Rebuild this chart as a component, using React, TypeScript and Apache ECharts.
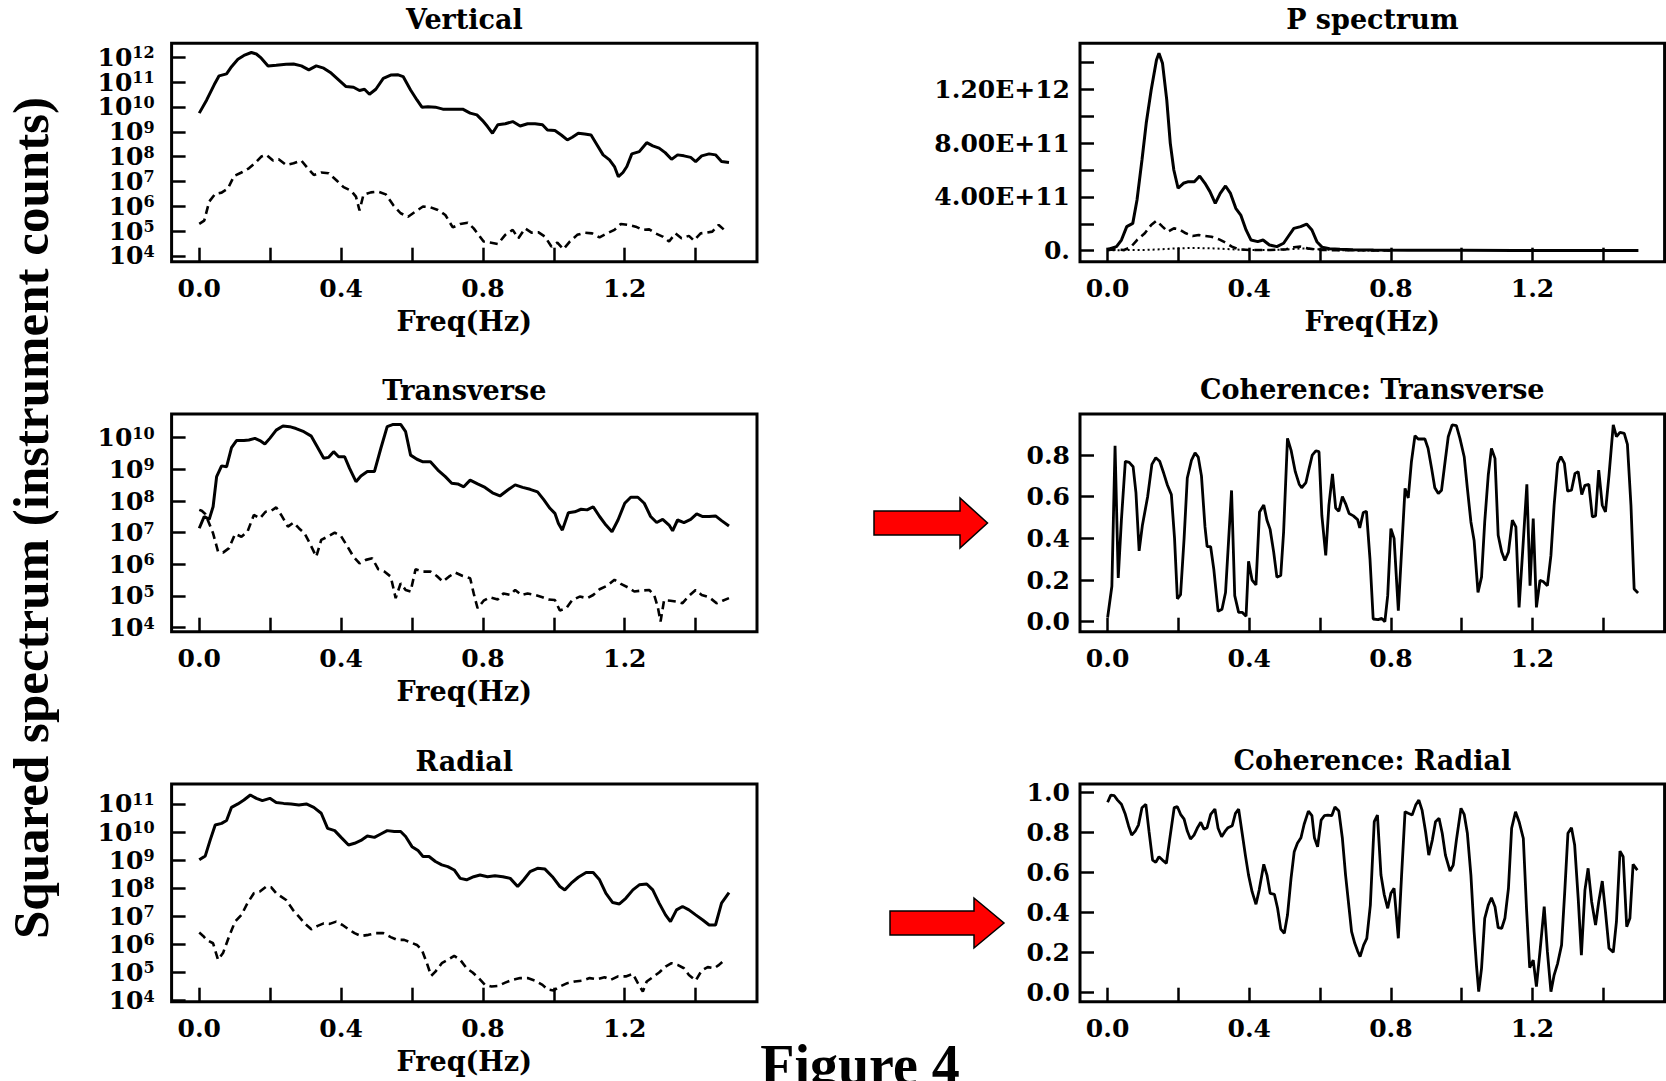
import React, { useEffect, useRef } from "react";
import * as echarts from "echarts";

// ---------- axis ticks / labels ----------
const FREQ_TICKS = [0, 0.2, 0.4, 0.6, 0.8, 1.0, 1.2, 1.4];
const FREQ_LABELS = [0, 0.4, 0.8, 1.2];
const VERT_EXP_TICKS = [4, 5, 6, 7, 8, 9, 10, 11, 12];
const TRANS_EXP_TICKS = [4, 5, 6, 7, 8, 9, 10];
const RADIAL_EXP_TICKS = [4, 5, 6, 7, 8, 9, 10, 11];
const P_TICKS_E11 = [0, 2, 4, 6, 8, 10, 12, 14];
const P_LABELS_E11 = [0, 4, 8, 12];
const COH_T_TICKS = [0, 0.2, 0.4, 0.6, 0.8];
const COH_R_TICKS = [0, 0.2, 0.4, 0.6, 0.8, 1.0];

const TITLES = ["Vertical", "P spectrum", "Transverse", "Coherence: Transverse", "Radial", "Coherence: Radial"];

// ---------- data: [freq (Hz), log10(squared spectrum counts)] ----------
const vertSolid = [[0,9.75],[0.021,10.28],[0.042,10.89],[0.056,11.25],[0.077,11.33],[0.091,11.62],[0.109,11.92],[0.126,12.07],[0.147,12.19],[0.161,12.13],[0.175,11.96],[0.194,11.65],[0.217,11.68],[0.245,11.72],[0.266,11.73],[0.288,11.65],[0.309,11.49],[0.33,11.65],[0.351,11.56],[0.372,11.36],[0.393,11.09],[0.414,10.82],[0.435,10.79],[0.452,10.66],[0.466,10.71],[0.48,10.51],[0.498,10.71],[0.519,11.15],[0.54,11.28],[0.561,11.29],[0.575,11.22],[0.596,10.68],[0.614,10.28],[0.628,9.99],[0.645,10.01],[0.666,9.99],[0.687,9.91],[0.715,9.91],[0.743,9.91],[0.764,9.75],[0.783,9.68],[0.799,9.45],[0.813,9.21],[0.827,8.94],[0.842,9.28],[0.863,9.32],[0.884,9.41],[0.905,9.23],[0.926,9.32],[0.947,9.32],[0.968,9.28],[0.982,9.07],[1.003,9.05],[1.021,8.87],[1.038,8.67],[1.052,8.78],[1.069,8.94],[1.087,8.91],[1.105,8.87],[1.122,8.47],[1.139,8.07],[1.157,7.87],[1.171,7.6],[1.182,7.19],[1.195,7.36],[1.206,7.6],[1.22,8.11],[1.241,8.2],[1.262,8.56],[1.279,8.43],[1.297,8.34],[1.314,8.16],[1.332,7.89],[1.349,8.07],[1.367,8.03],[1.386,7.97],[1.4,7.8],[1.417,8.03],[1.438,8.11],[1.456,8.07],[1.473,7.8],[1.494,7.76]];
const vertDashed = [[0,5.29],[0.014,5.42],[0.028,6.19],[0.045,6.5],[0.063,6.55],[0.081,6.72],[0.098,7.22],[0.119,7.36],[0.14,7.53],[0.157,7.73],[0.175,8.0],[0.189,8.07],[0.208,7.84],[0.224,7.89],[0.245,7.66],[0.266,7.73],[0.288,7.84],[0.306,7.53],[0.323,7.26],[0.344,7.36],[0.365,7.33],[0.386,7.06],[0.407,6.77],[0.428,6.63],[0.442,6.39],[0.452,5.83],[0.463,6.46],[0.484,6.56],[0.505,6.59],[0.526,6.48],[0.547,6.05],[0.568,5.72],[0.589,5.58],[0.61,5.79],[0.631,5.99],[0.652,5.96],[0.673,5.85],[0.694,5.65],[0.715,5.15],[0.736,5.29],[0.757,5.34],[0.774,5.11],[0.788,4.85],[0.802,4.58],[0.82,4.54],[0.842,4.48],[0.863,4.85],[0.884,5.05],[0.9,4.71],[0.919,5.11],[0.937,4.94],[0.957,4.95],[0.975,4.78],[0.993,4.38],[1.01,4.54],[1.027,4.27],[1.045,4.58],[1.066,4.85],[1.087,4.94],[1.108,4.91],[1.129,4.75],[1.15,4.91],[1.171,5.05],[1.189,5.29],[1.209,5.25],[1.231,5.18],[1.251,5.05],[1.269,5.07],[1.287,4.91],[1.307,4.78],[1.325,4.58],[1.343,4.91],[1.36,4.71],[1.381,4.81],[1.395,4.62],[1.414,4.91],[1.431,4.94],[1.447,4.98],[1.465,5.25],[1.479,5.07]];

const transSolid = [[0,7.14],[0.014,7.51],[0.028,7.42],[0.039,7.82],[0.049,8.77],[0.063,9.11],[0.077,9.08],[0.091,9.69],[0.105,9.91],[0.126,9.91],[0.14,9.93],[0.157,9.98],[0.171,9.91],[0.185,9.8],[0.199,9.98],[0.217,10.24],[0.236,10.37],[0.255,10.35],[0.273,10.29],[0.295,10.19],[0.316,10.05],[0.33,9.77],[0.351,9.35],[0.365,9.38],[0.379,9.56],[0.393,9.4],[0.41,9.4],[0.424,9.03],[0.442,8.61],[0.456,8.79],[0.474,8.93],[0.494,8.93],[0.512,9.66],[0.53,10.35],[0.547,10.42],[0.568,10.42],[0.582,10.19],[0.596,9.45],[0.614,9.32],[0.631,9.24],[0.652,9.24],[0.673,8.98],[0.694,8.77],[0.712,8.56],[0.729,8.54],[0.746,8.45],[0.764,8.66],[0.785,8.54],[0.806,8.43],[0.827,8.26],[0.848,8.16],[0.87,8.35],[0.891,8.51],[0.912,8.43],[0.933,8.37],[0.954,8.29],[0.971,8.05],[0.989,7.77],[1.003,7.61],[1.013,7.29],[1.024,7.08],[1.041,7.63],[1.059,7.66],[1.077,7.74],[1.094,7.72],[1.111,7.82],[1.129,7.51],[1.147,7.24],[1.164,7.03],[1.181,7.4],[1.2,7.93],[1.217,8.12],[1.237,8.12],[1.255,7.93],[1.273,7.51],[1.29,7.32],[1.307,7.42],[1.325,7.24],[1.335,7.06],[1.349,7.4],[1.367,7.32],[1.386,7.42],[1.403,7.59],[1.42,7.51],[1.438,7.51],[1.456,7.53],[1.473,7.38],[1.494,7.21]];
const transDashed = [[0,7.72],[0.007,7.69],[0.017,7.59],[0.028,7.29],[0.039,6.98],[0.053,6.4],[0.067,6.37],[0.084,6.51],[0.101,6.96],[0.119,6.87],[0.136,7.03],[0.154,7.56],[0.171,7.45],[0.187,7.66],[0.203,7.69],[0.217,7.8],[0.231,7.56],[0.25,7.19],[0.266,7.32],[0.281,7.14],[0.297,6.98],[0.311,6.68],[0.33,6.24],[0.344,6.77],[0.365,6.89],[0.382,7.0],[0.4,6.89],[0.418,6.56],[0.435,6.24],[0.452,6.03],[0.47,6.14],[0.488,6.19],[0.505,5.84],[0.522,5.77],[0.54,5.61],[0.554,4.93],[0.568,5.4],[0.582,5.19],[0.596,5.14],[0.61,5.84],[0.631,5.77],[0.652,5.77],[0.67,5.63],[0.687,5.45],[0.704,5.61],[0.722,5.74],[0.743,5.63],[0.764,5.56],[0.774,5.08],[0.785,4.61],[0.802,4.85],[0.82,4.96],[0.842,4.89],[0.858,5.08],[0.877,5.03],[0.891,5.19],[0.909,5.03],[0.926,5.08],[0.947,5.03],[0.968,4.96],[0.985,4.89],[1.003,4.87],[1.017,4.54],[1.035,4.61],[1.052,4.87],[1.073,4.98],[1.094,4.93],[1.111,5.03],[1.129,5.21],[1.15,5.32],[1.171,5.51],[1.189,5.38],[1.209,5.27],[1.227,5.14],[1.248,5.17],[1.269,5.19],[1.283,5.03],[1.293,4.66],[1.301,4.19],[1.311,4.87],[1.329,4.85],[1.346,4.82],[1.363,4.77],[1.381,5.0],[1.4,5.19],[1.417,5.03],[1.438,4.96],[1.459,4.77],[1.476,4.85],[1.494,4.93]];

const radialSolid = [[0,9.01],[0.017,9.15],[0.031,9.72],[0.045,10.25],[0.063,10.31],[0.077,10.41],[0.091,10.88],[0.109,11.0],[0.126,11.14],[0.144,11.32],[0.161,11.2],[0.178,11.12],[0.199,11.2],[0.217,11.05],[0.238,11.02],[0.259,11.0],[0.281,10.96],[0.302,11.0],[0.323,10.88],[0.344,10.67],[0.362,10.13],[0.382,10.05],[0.4,9.81],[0.421,9.54],[0.438,9.6],[0.456,9.7],[0.474,9.86],[0.494,9.81],[0.512,9.93],[0.53,10.05],[0.55,10.02],[0.568,10.02],[0.582,9.84],[0.6,9.48],[0.617,9.34],[0.631,9.13],[0.648,9.13],[0.666,8.95],[0.684,8.83],[0.701,8.77],[0.719,8.65],[0.736,8.35],[0.754,8.3],[0.774,8.41],[0.792,8.47],[0.813,8.41],[0.834,8.44],[0.856,8.41],[0.877,8.35],[0.898,8.06],[0.915,8.3],[0.933,8.59],[0.954,8.71],[0.975,8.68],[0.996,8.41],[1.017,8.06],[1.031,7.94],[1.049,8.18],[1.069,8.39],[1.091,8.56],[1.111,8.56],[1.129,8.3],[1.147,7.82],[1.166,7.49],[1.185,7.44],[1.203,7.64],[1.223,7.94],[1.241,8.12],[1.262,8.15],[1.279,7.94],[1.297,7.47],[1.315,7.05],[1.329,6.81],[1.346,7.23],[1.363,7.35],[1.381,7.23],[1.4,7.05],[1.42,6.87],[1.438,6.69],[1.456,6.69],[1.473,7.47],[1.494,7.84]];
const radialDashed = [[0,6.42],[0.011,6.3],[0.021,6.16],[0.039,6.04],[0.053,5.45],[0.067,5.69],[0.084,6.28],[0.101,6.81],[0.119,7.05],[0.136,7.47],[0.154,7.82],[0.171,7.88],[0.189,8.06],[0.203,8.03],[0.217,7.82],[0.231,7.7],[0.245,7.58],[0.264,7.23],[0.281,6.99],[0.297,6.75],[0.316,6.54],[0.334,6.66],[0.351,6.75],[0.368,6.73],[0.386,6.81],[0.404,6.69],[0.421,6.54],[0.438,6.4],[0.456,6.3],[0.477,6.34],[0.498,6.4],[0.519,6.4],[0.54,6.26],[0.558,6.16],[0.578,6.16],[0.596,6.07],[0.614,5.98],[0.628,5.8],[0.642,5.33],[0.654,4.88],[0.666,5.03],[0.684,5.33],[0.701,5.45],[0.719,5.59],[0.736,5.45],[0.754,5.15],[0.771,5.0],[0.788,4.8],[0.806,4.56],[0.824,4.5],[0.842,4.52],[0.863,4.64],[0.884,4.74],[0.905,4.8],[0.926,4.8],[0.947,4.71],[0.968,4.56],[0.982,4.4],[0.999,4.36],[1.017,4.5],[1.038,4.62],[1.059,4.68],[1.08,4.71],[1.101,4.8],[1.122,4.76],[1.143,4.83],[1.161,4.74],[1.181,4.86],[1.203,4.86],[1.223,4.95],[1.237,4.62],[1.251,4.32],[1.262,4.68],[1.279,4.83],[1.297,5.0],[1.315,5.21],[1.332,5.33],[1.349,5.27],[1.367,5.15],[1.381,4.91],[1.4,4.71],[1.417,5.07],[1.434,5.19],[1.452,5.15],[1.466,5.27],[1.479,5.42]];

// ---------- P spectrum: [freq (Hz), power in units of 1e11] ----------
const pSolid = [[0,0.1],[0.025,0.3],[0.039,0.79],[0.054,1.79],[0.071,2.03],[0.083,3.77],[0.097,6.74],[0.109,9.47],[0.123,11.95],[0.138,14.18],[0.145,14.68],[0.155,13.93],[0.167,11.21],[0.177,7.98],[0.187,6.0],[0.199,4.64],[0.214,5.01],[0.228,5.13],[0.245,5.13],[0.26,5.55],[0.275,5.01],[0.289,4.39],[0.304,3.52],[0.318,4.26],[0.333,4.81],[0.347,4.26],[0.362,3.15],[0.376,2.65],[0.391,1.54],[0.405,0.79],[0.424,0.67],[0.439,0.79],[0.457,0.42],[0.478,0.3],[0.497,0.55],[0.511,1.09],[0.526,1.66],[0.545,1.79],[0.562,1.98],[0.577,1.54],[0.591,0.67],[0.606,0.25],[0.627,0.15],[0.656,0.1],[0.693,0.07],[0.751,0.05],[0.85,0.03],[1.0,0.03],[1.15,0.02],[1.3,0.02],[1.499,0.02]];
const pDashed = [[0,0.05],[0.025,0.1],[0.046,0.05],[0.065,0.25],[0.083,0.79],[0.105,1.29],[0.123,1.91],[0.138,2.23],[0.155,1.79],[0.17,1.41],[0.187,1.66],[0.202,1.59],[0.221,1.29],[0.24,1.09],[0.257,1.17],[0.275,1.09],[0.293,1.04],[0.315,0.84],[0.333,0.6],[0.351,0.3],[0.37,0.1],[0.402,0.05],[0.46,0.05],[0.504,0.1],[0.526,0.25],[0.545,0.3],[0.565,0.17],[0.584,0.1],[0.606,0.05],[0.7,0.03],[0.8,0.02]];
const pDotted = [[0,0.03],[0.1,0.05],[0.15,0.1],[0.2,0.18],[0.25,0.2],[0.3,0.17],[0.35,0.1],[0.4,0.05],[0.45,0.04],[0.5,0.08],[0.55,0.17],[0.6,0.1],[0.65,0.04],[0.7,0.02],[0.8,0.02]];

// ---------- coherence: [freq (Hz), coherence] ----------
const cohTrans = [[0,0.02],[0.012,0.17],[0.021,0.845],[0.03,0.21],[0.039,0.49],[0.05,0.77],[0.061,0.765],[0.072,0.744],[0.08,0.62],[0.089,0.34],[0.098,0.46],[0.113,0.6],[0.125,0.755],[0.136,0.787],[0.147,0.77],[0.159,0.71],[0.169,0.655],[0.18,0.61],[0.189,0.4],[0.197,0.11],[0.206,0.13],[0.216,0.4],[0.225,0.69],[0.237,0.776],[0.247,0.81],[0.256,0.79],[0.265,0.7],[0.275,0.455],[0.281,0.36],[0.291,0.36],[0.3,0.25],[0.312,0.05],[0.323,0.06],[0.333,0.14],[0.342,0.4],[0.35,0.63],[0.359,0.125],[0.37,0.045],[0.38,0.045],[0.391,0.026],[0.398,0.29],[0.408,0.2],[0.419,0.177],[0.429,0.527],[0.441,0.56],[0.45,0.487],[0.459,0.443],[0.469,0.334],[0.478,0.214],[0.489,0.222],[0.497,0.43],[0.508,0.88],[0.518,0.824],[0.53,0.72],[0.541,0.66],[0.548,0.643],[0.56,0.668],[0.569,0.736],[0.578,0.8],[0.588,0.82],[0.597,0.816],[0.605,0.51],[0.616,0.318],[0.625,0.56],[0.635,0.71],[0.644,0.546],[0.653,0.53],[0.663,0.6],[0.672,0.567],[0.682,0.519],[0.694,0.508],[0.706,0.49],[0.712,0.45],[0.722,0.524],[0.731,0.53],[0.741,0.3],[0.75,0.013],[0.764,0.01],[0.774,0.016],[0.783,0.0],[0.791,0.125],[0.8,0.447],[0.809,0.4],[0.821,0.053],[0.83,0.334],[0.84,0.64],[0.849,0.594],[0.858,0.768],[0.868,0.893],[0.877,0.877],[0.888,0.877],[0.896,0.877],[0.905,0.832],[0.915,0.736],[0.924,0.643],[0.934,0.615],[0.943,0.631],[0.953,0.768],[0.962,0.888],[0.973,0.945],[0.985,0.941],[0.995,0.88],[1.007,0.792],[1.016,0.64],[1.026,0.479],[1.035,0.39],[1.046,0.141],[1.056,0.214],[1.065,0.479],[1.075,0.704],[1.084,0.832],[1.094,0.784],[1.103,0.415],[1.113,0.334],[1.122,0.294],[1.132,0.334],[1.143,0.487],[1.153,0.455],[1.162,0.069],[1.172,0.334],[1.184,0.659],[1.193,0.173],[1.202,0.495],[1.211,0.069],[1.221,0.198],[1.23,0.193],[1.242,0.173],[1.252,0.318],[1.261,0.559],[1.271,0.76],[1.28,0.792],[1.29,0.76],[1.299,0.627],[1.31,0.631],[1.32,0.712],[1.329,0.72],[1.339,0.61],[1.348,0.655],[1.359,0.659],[1.369,0.503],[1.378,0.508],[1.387,0.728],[1.397,0.559],[1.406,0.527],[1.416,0.704],[1.428,0.945],[1.437,0.888],[1.447,0.909],[1.459,0.904],[1.468,0.851],[1.478,0.559],[1.487,0.157],[1.498,0.138]];
const cohRadial = [[0,0.952],[0.009,0.988],[0.019,0.985],[0.028,0.963],[0.039,0.942],[0.05,0.892],[0.059,0.835],[0.068,0.788],[0.078,0.808],[0.087,0.838],[0.097,0.925],[0.108,0.942],[0.117,0.805],[0.127,0.663],[0.136,0.652],[0.145,0.68],[0.155,0.663],[0.166,0.647],[0.175,0.763],[0.188,0.925],[0.197,0.93],[0.206,0.892],[0.216,0.868],[0.225,0.808],[0.234,0.768],[0.244,0.788],[0.253,0.822],[0.263,0.852],[0.272,0.818],[0.281,0.825],[0.291,0.892],[0.303,0.918],[0.312,0.822],[0.322,0.78],[0.331,0.805],[0.34,0.825],[0.352,0.835],[0.361,0.897],[0.37,0.918],[0.38,0.797],[0.389,0.688],[0.398,0.588],[0.408,0.505],[0.419,0.442],[0.428,0.513],[0.441,0.642],[0.45,0.588],[0.459,0.497],[0.471,0.492],[0.48,0.422],[0.489,0.318],[0.499,0.297],[0.508,0.388],[0.518,0.572],[0.527,0.705],[0.536,0.747],[0.546,0.775],[0.555,0.842],[0.567,0.908],[0.577,0.885],[0.584,0.775],[0.593,0.73],[0.603,0.863],[0.612,0.885],[0.622,0.888],[0.633,0.885],[0.642,0.928],[0.653,0.908],[0.663,0.772],[0.672,0.588],[0.682,0.422],[0.689,0.305],[0.698,0.247],[0.706,0.208],[0.713,0.18],[0.723,0.238],[0.732,0.272],[0.742,0.438],[0.753,0.855],[0.762,0.888],[0.772,0.588],[0.781,0.492],[0.791,0.422],[0.8,0.497],[0.809,0.522],[0.821,0.272],[0.83,0.58],[0.84,0.905],[0.849,0.897],[0.86,0.888],[0.87,0.938],[0.879,0.963],[0.888,0.913],[0.898,0.805],[0.907,0.688],[0.917,0.763],[0.926,0.855],[0.936,0.872],[0.945,0.797],[0.954,0.688],[0.967,0.608],[0.976,0.638],[0.985,0.763],[0.998,0.922],[1.007,0.892],[1.016,0.797],[1.026,0.588],[1.035,0.305],[1.042,0.13],[1.048,0.005],[1.056,0.122],[1.065,0.372],[1.075,0.438],[1.084,0.475],[1.094,0.43],[1.103,0.325],[1.113,0.322],[1.122,0.372],[1.132,0.522],[1.141,0.822],[1.152,0.905],[1.162,0.855],[1.174,0.772],[1.183,0.422],[1.192,0.125],[1.202,0.163],[1.211,0.03],[1.221,0.205],[1.233,0.43],[1.242,0.205],[1.252,0.005],[1.261,0.088],[1.271,0.147],[1.282,0.238],[1.291,0.505],[1.3,0.797],[1.31,0.825],[1.319,0.738],[1.329,0.472],[1.338,0.188],[1.348,0.513],[1.357,0.622],[1.367,0.455],[1.378,0.338],[1.387,0.455],[1.397,0.558],[1.406,0.405],[1.416,0.222],[1.428,0.202],[1.437,0.355],[1.447,0.708],[1.456,0.68],[1.466,0.33],[1.475,0.372],[1.484,0.642],[1.496,0.613]];

// ---------- layout ----------
const W = 1666;
const H = 1081;
const TICK_FONT = "DejaVu Serif";
const TIMES = "Liberation Serif";
const LEFT_COL = { left: 171.6, width: 585.4 };
const RIGHT_COL = { left: 1080, width: 584.6 };
const ROWS = [
  { top: 43.3, height: 218.4 },
  { top: 414, height: 217.7 },
  { top: 784, height: 217.7 },
];
const X_MIN = -0.078;
const X_MAX = 1.573;

function App() {
  const ref = useRef<HTMLDivElement>(null);

  useEffect(() => {
    if (!ref.current) return;
    const chart = echarts.init(ref.current, null, { renderer: "svg", width: W, height: H });

    const gridDefs = [
      { ...LEFT_COL, ...ROWS[0] },
      { ...RIGHT_COL, ...ROWS[0] },
      { ...LEFT_COL, ...ROWS[1] },
      { ...RIGHT_COL, ...ROWS[1] },
      { ...LEFT_COL, ...ROWS[2] },
      { ...RIGHT_COL, ...ROWS[2] },
    ];

    const grid = gridDefs.map((g) => ({
      left: g.left,
      top: g.top,
      width: g.width,
      height: g.height,
      show: true,
      borderColor: "#000",
      borderWidth: 3,
      backgroundColor: "transparent",
      containLabel: false,
    }));

    const labelStyle = { fontFamily: TICK_FONT, fontWeight: "bold" as const, color: "#000" };
    const tickStyle = { show: true, inside: true, length: 14, lineStyle: { color: "#000", width: 2.5 } };
    const hiddenLine = { show: false, onZero: false };

    const hasFreqName = [true, true, true, false, true, false];
    const xAxis = gridDefs.map((_, i) => ({
      gridIndex: i,
      type: "value",
      position: "bottom",
      min: X_MIN,
      max: X_MAX,
      axisLine: hiddenLine,
      splitLine: { show: false },
      axisTick: { ...tickStyle, customValues: FREQ_TICKS },
      axisLabel: {
        ...labelStyle,
        fontSize: 25,
        margin: 14,
        showMinLabel: true,
        showMaxLabel: true,
        customValues: FREQ_LABELS,
        formatter: (v: number) => v.toFixed(1),
      },
      name: hasFreqName[i] ? "Freq(Hz)" : "",
      nameLocation: "middle",
      nameGap: 46,
      nameTextStyle: { ...labelStyle, fontSize: 27 },
    }));

    const expRich = {
      b: { fontFamily: TICK_FONT, fontWeight: "bold", fontSize: 25, lineHeight: 25, color: "#000", verticalAlign: "bottom" },
      s: { fontFamily: TICK_FONT, fontWeight: "bold", fontSize: 16, lineHeight: 14, color: "#000", verticalAlign: "top" },
    };
    const expAxis = (i: number, min: number, max: number, ticks: number[]) => ({
      gridIndex: i,
      type: "value",
      position: "left",
      min,
      max,
      axisLine: hiddenLine,
      splitLine: { show: false },
      axisTick: { ...tickStyle, customValues: ticks },
      axisLabel: {
        margin: 17,
        showMinLabel: true,
        showMaxLabel: true,
        hideOverlap: false,
        customValues: ticks,
        formatter: (v: number) => `{b|10}{s|${Math.round(v)}}`,
        rich: expRich,
      },
    });
    const linAxis = (i: number, min: number, max: number, ticks: number[], labels: number[], fmt: (v: number) => string) => ({
      gridIndex: i,
      type: "value",
      position: "left",
      min,
      max,
      axisLine: hiddenLine,
      splitLine: { show: false },
      axisTick: { ...tickStyle, customValues: ticks },
      axisLabel: {
        ...labelStyle,
        fontSize: 25,
        margin: 10,
        showMinLabel: true,
        showMaxLabel: true,
        customValues: labels,
        formatter: fmt,
      },
    });

    const yAxis = [
      expAxis(0, 3.77, 12.56, VERT_EXP_TICKS),
      linAxis(1, -0.82, 15.42, P_TICKS_E11, P_LABELS_E11, (v) =>
        v === 0 ? "0." : (v * 1e11).toExponential(2).toUpperCase()
      ),
      expAxis(2, 3.87, 10.75, TRANS_EXP_TICKS),
      linAxis(3, -0.048, 0.997, COH_T_TICKS, COH_T_TICKS, (v) => v.toFixed(1)),
      expAxis(4, 3.96, 11.71, RADIAL_EXP_TICKS),
      linAxis(5, -0.045, 1.0435, COH_R_TICKS, COH_R_TICKS, (v) => v.toFixed(1)),
    ];

    const solid = { color: "#000", width: 3, type: "solid" };
    const dashed = { color: "#000", width: 2.6, type: [8, 5] };
    const dotted = { color: "#000", width: 2, type: [2, 3] };
    const mk = (name: string, idx: number, data: number[][], lineStyle: any) => ({
      name,
      type: "line",
      xAxisIndex: idx,
      yAxisIndex: idx,
      data,
      showSymbol: false,
      symbol: "none",
      lineStyle,
      silent: true,
      z: 3,
    });

    const series = [
      mk("Vertical solid", 0, vertSolid, solid),
      mk("Vertical dashed", 0, vertDashed, dashed),
      mk("P solid", 1, pSolid, solid),
      mk("P dashed", 1, pDashed, dashed),
      mk("P dotted", 1, pDotted, dotted),
      mk("Transverse solid", 2, transSolid, solid),
      mk("Transverse dashed", 2, transDashed, dashed),
      mk("Coherence transverse", 3, cohTrans, { color: "#000", width: 2.8 }),
      mk("Radial solid", 4, radialSolid, solid),
      mk("Radial dashed", 4, radialDashed, dashed),
      mk("Coherence radial", 5, cohRadial, { color: "#000", width: 2.8 }),
    ];

    const titleYs = [19.5, 19.5, 390, 389, 761, 760];
    const titleGraphics = TITLES.map((t, i) => {
      const g = gridDefs[i];
      return {
        type: "text",
        x: g.left + g.width / 2,
        y: titleYs[i],
        silent: true,
        style: {
          text: t,
          fontFamily: TICK_FONT,
          fontWeight: "bold",
          fontSize: 27,
          fill: "#000",
          align: "center",
          verticalAlign: "middle",
          textAlign: "center",
          textVerticalAlign: "middle",
        },
      };
    });

    const arrow = (pts: number[][]) => ({
      type: "polygon",
      silent: true,
      shape: { points: pts },
      style: { fill: "#ff0000", stroke: "#000", lineWidth: 1.5 },
    });

    const graphic = [
      ...titleGraphics,
      {
        type: "text",
        x: 31,
        y: 518,
        rotation: Math.PI / 2,
        silent: true,
        style: {
          text: "Squared spectrum (instrument counts)",
          fontFamily: TIMES,
          fontWeight: "bold",
          fontSize: 51,
          fill: "#000",
          align: "center",
          verticalAlign: "middle",
          textAlign: "center",
          textVerticalAlign: "middle",
        },
      },
      {
        type: "text",
        x: 860,
        y: 1065,
        silent: true,
        style: {
          text: "Figure 4",
          fontFamily: TIMES,
          fontWeight: "bold",
          fontSize: 56,
          fill: "#000",
          align: "center",
          verticalAlign: "middle",
          textAlign: "center",
          textVerticalAlign: "middle",
        },
      },
      arrow([[874, 511], [960, 511], [960, 498], [987.5, 523], [960, 548], [960, 535], [874, 535]]),
      arrow([[890, 911], [974, 911], [974, 898], [1004, 923], [974, 948], [974, 935], [890, 935]]),
    ];

    chart.setOption({
      animation: false,
      backgroundColor: "#fff",
      grid,
      xAxis,
      yAxis,
      series,
      graphic,
    } as any);

    return () => {
      chart.dispose();
    };
  }, []);

  return (
    <div
      ref={ref}
      style={{ position: "absolute", left: 0, top: 0, width: W, height: H, background: "#fff" }}
    />
  );
}

export default App;
